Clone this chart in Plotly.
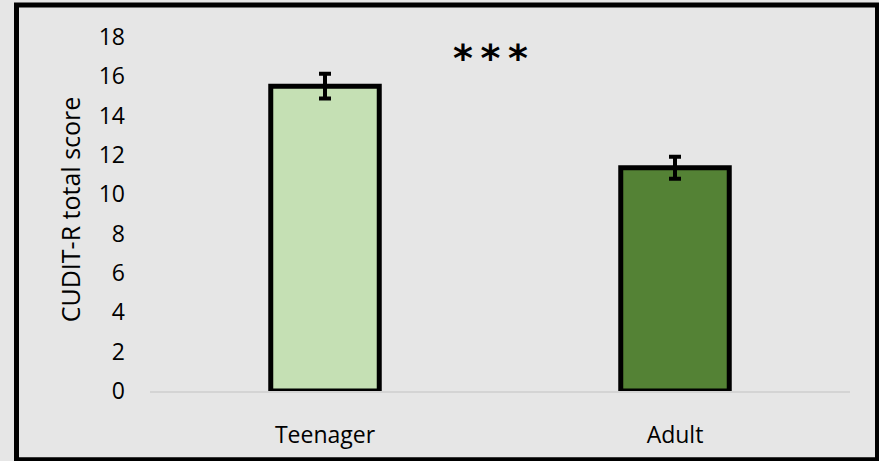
import plotly.graph_objects as go

# Mean CUDIT-R total score by age group, with standard error
groups = ["Teenager", "Adult"]
means = [15.5, 11.35]
sem = [0.63, 0.56]
bar_colors = ["#c5e0b4", "#548235"]
y_ticks = [0, 2, 4, 6, 8, 10, 12, 14, 16, 18]

FONT = "Open Sans"
BG = "#e6e6e6"

fig = go.Figure(
    go.Bar(
        x=groups,
        y=means,
        marker=dict(color=bar_colors, line=dict(color="black", width=5)),
        error_y=dict(type="data", array=sem, visible=True,
                     color="black", thickness=4, width=6),
        width=0.31,
        showlegend=False,
    )
)

fig.update_layout(
    width=879,
    height=461,
    margin=dict(l=150, r=29, t=36.5, b=70.3),
    paper_bgcolor=BG,
    plot_bgcolor=BG,
    font=dict(family=FONT, size=23, color="black"),
    xaxis=dict(
        showgrid=False,
        showline=True,
        linecolor="#d4d4d4",
        linewidth=2,
        ticks="",
        ticklabelstandoff=22,
        tickfont=dict(size=23),
        fixedrange=True,
    ),
    yaxis=dict(
        range=[0, 18],
        tickvals=y_ticks,
        showgrid=False,
        zeroline=False,
        showline=False,
        ticks="",
        ticklabelstandoff=24,
        tickfont=dict(size=23),
        fixedrange=True,
    ),
    annotations=[
        dict(
            text="CUDIT-R total score",
            textangle=-90,
            xref="paper", yref="paper",
            x=-0.114, y=0.514,
            xanchor="center", yanchor="middle",
            showarrow=False,
            font=dict(family=FONT, size=25, color="black"),
        ),
        dict(
            text="<b>*\u2009*\u2009*</b>",
            xref="paper", yref="paper",
            x=0.487, y=0.94,
            xanchor="center", yanchor="middle",
            showarrow=False,
            font=dict(family="DejaVu Sans", size=38, color="black"),
        ),
    ],
    shapes=[
        dict(
            type="rect",
            xref="paper", yref="paper",
            x0=(16.5 - 150) / 700, x1=(877.5 - 150) / 700,
            y0=(390.7 - 459.5) / 354.2, y1=(390.7 - 4.5) / 354.2,
            line=dict(color="black", width=5),
            fillcolor="rgba(0,0,0,0)",
            layer="above",
        )
    ],
)

fig.write_html("out.html")
